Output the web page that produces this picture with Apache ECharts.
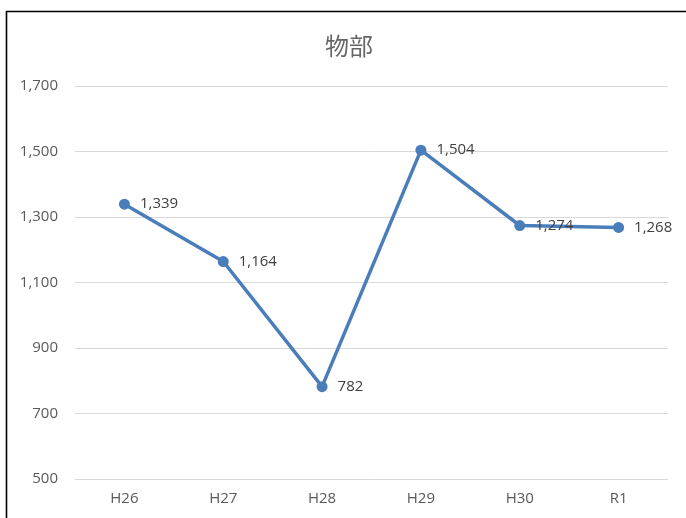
<!DOCTYPE html>
<html><head><meta charset="utf-8">
<script src="https://cdn.jsdelivr.net/npm/echarts@6/dist/echarts.min.js"></script>
<style>html,body{margin:0;padding:0;background:#fff}#c{width:686px;height:518px}</style>
</head><body><div id="c"></div>
<script>
const categories = ['H26','H27','H28','H29','H30','R1'];
const values = [1339, 1164, 782, 1504, 1274, 1268];
const yTicks = {min: 500, max: 1700, interval: 200};
const title = '物部';

const chart = echarts.init(document.getElementById('c'));
chart.setOption({
  animation: false,
  title: {text: title, left: 320, top: 29, textStyle: {fontFamily: 'Noto Sans CJK JP', fontWeight: 'normal', fontSize: 24, color: '#666666'}},
  graphic: [{type: 'rect', shape: {x: 6.5, y: 11.5, width: 700, height: 600}, style: {fill: 'none', stroke: '#000', lineWidth: 1.6}, silent: true}],
  grid: {left: 75, right: 18, top: 86, bottom: 39, containLabel: false},
  xAxis: {type: 'category', data: categories, boundaryGap: true,
    axisLine: {show: false}, axisTick: {show: false},
    axisLabel: {color: '#595959', fontSize: 15, fontFamily: 'Open Sans', margin: 12}},
  yAxis: {type: 'value', min: yTicks.min, max: yTicks.max, interval: yTicks.interval,
    axisLine: {show: false}, axisTick: {show: false},
    splitLine: {lineStyle: {color: '#d9d9d9', width: 1}},
    axisLabel: {color: '#595959', fontSize: 15, fontFamily: 'Open Sans', margin: 17,
      formatter: v => v.toLocaleString('en-US')}},
  series: [{type: 'line', data: values, symbol: 'circle', symbolSize: 11,
    lineStyle: {color: '#4a7ebb', width: 3.5}, itemStyle: {color: '#4a7ebb'},
    label: {show: true, position: 'right', distance: 10, color: '#404040', fontSize: 15, fontFamily: 'Open Sans',
      formatter: p => p.value.toLocaleString('en-US')}}]
});
</script></body></html>
